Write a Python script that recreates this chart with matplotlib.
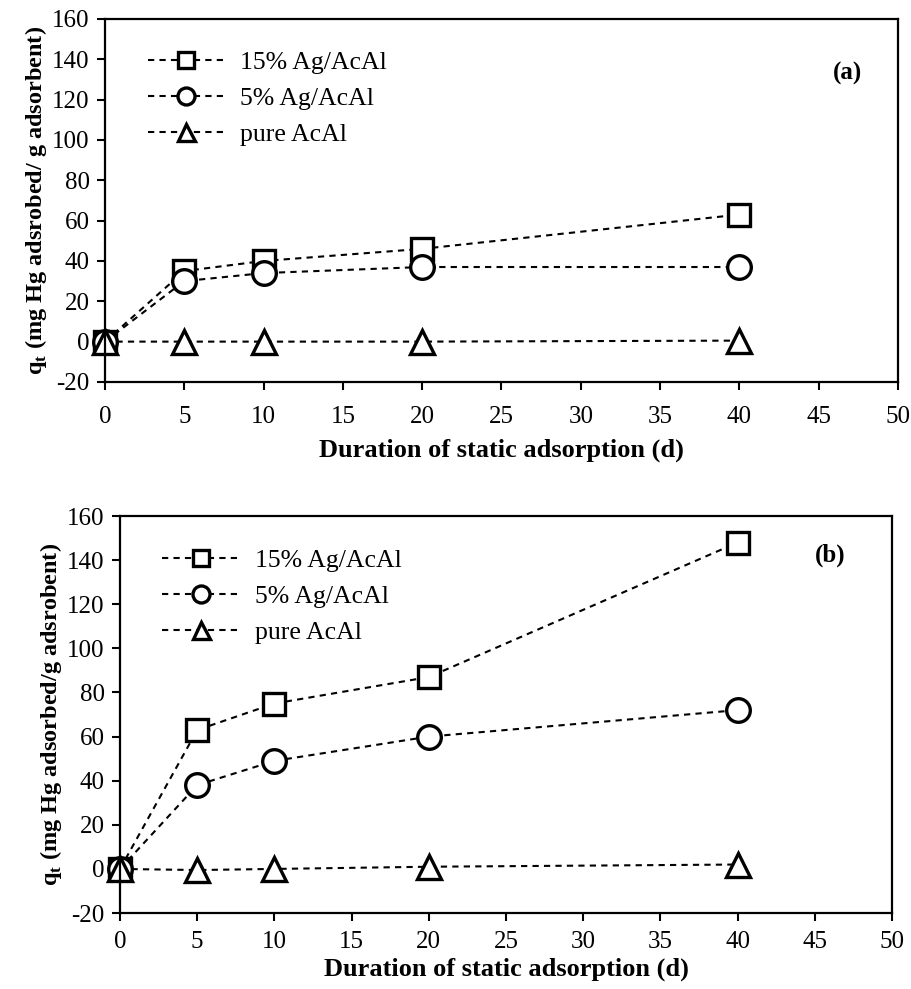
import matplotlib
matplotlib.use("Agg")
import matplotlib.pyplot as plt

days = [0, 5, 10, 20, 40]
labels = ["15% Ag/AcAl", "5% Ag/AcAl", "pure AcAl"]
markers = ["s", "o", "^"]

a_15 = [0, 35, 40, 46, 63]
a_5 = [0, 30, 34, 37, 37]
a_pure = [0, 0, 0, 0, 0.5]

b_15 = [0, 63, 75, 87, 148]
b_5 = [0, 38, 49, 60, 72]
b_pure = [0, -0.5, 0, 1, 2]

xticks = [0, 5, 10, 15, 20, 25, 30, 35, 40, 45, 50]
yticks = [-20, 0, 20, 40, 60, 80, 100, 120, 140, 160]

plt.rcParams['font.family'] = ['Liberation Serif', 'DejaVu Serif']
plt.rcParams['axes.unicode_minus'] = False
plt.rcParams['mathtext.fontset'] = 'custom'
plt.rcParams['mathtext.rm'] = 'Liberation Serif'
plt.rcParams['mathtext.bf'] = 'Liberation Serif:bold'

fig = plt.figure(figsize=(9.12, 9.89), dpi=100)
ax1 = fig.add_axes([0.1151, 0.6138, 0.8695, 0.367])
ax2 = fig.add_axes([0.1316, 0.0768, 0.8465, 0.4014])

panels = [
    (ax1, [a_15, a_5, a_pure], "(a)", (0.937, 0.851),
     "q$_\\mathbf{t}$ (mg Hg adsrobed/ g adsorbent)", 11, 8),
    (ax2, [b_15, b_5, b_pure], "(b)", (0.92, 0.90),
     "q$_\\mathbf{t}$ (mg Hg adsorbed/g adsrobent)", 7, 3),
]

for ax, series, tag, tpos, ylab, xpad, xlpad in panels:
    for vals, lab, m in zip(series, labels, markers):
        ax.plot(days, vals, linestyle=(0, (3.0, 2.5)), color='black', lw=1.5,
                marker=m, markersize={'s': 16, 'o': 17, '^': 17}[m],
                markerfacecolor='white', markeredgecolor='black',
                markeredgewidth=2.4, label=lab, clip_on=False)
    ax.set_xlim(0, 50)
    ax.set_ylim(-20, 160)
    ax.set_xticks(xticks)
    ax.set_yticks(yticks)
    ax.tick_params(direction='out', length=6, width=1.5, labelsize=18, pad=5)
    ax.tick_params(axis='x', pad=xpad)
    for s in ax.spines.values():
        s.set_linewidth(1.6)
    ax.set_xlabel("Duration of static adsorption (d)", fontsize=19, fontweight='bold', labelpad=xlpad)
    ax.set_ylabel(ylab, fontsize=17.5, fontweight='bold', labelpad=2)
    ax.text(tpos[0], tpos[1], tag, transform=ax.transAxes,
            fontsize=18, fontweight='bold', ha='center', va='center')
    ax.legend(loc='upper left', bbox_to_anchor=(0.025, 0.975), frameon=False,
              fontsize=18.5, markerscale=0.72, handlelength=3.0, handletextpad=0.6,
              labelspacing=0.5)

fig.savefig("out.png", dpi=100)
